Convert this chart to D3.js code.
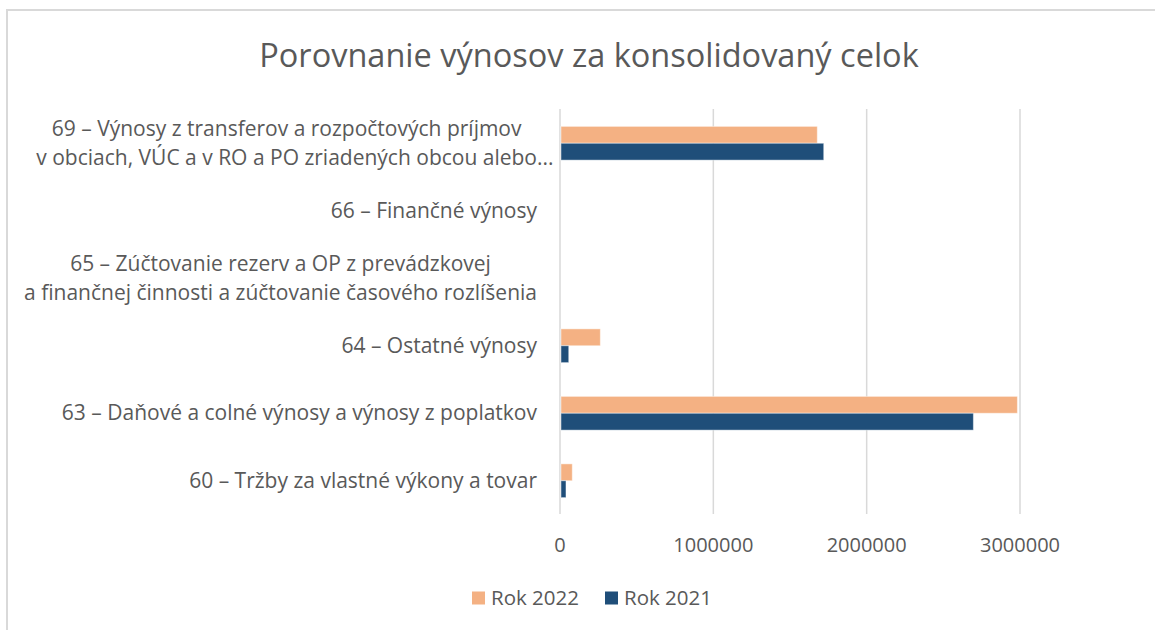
<!DOCTYPE html>
<html>
<head>
<meta charset="utf-8">
<script src="https://cdn.jsdelivr.net/npm/d3@7"></script>
<style>
  body { margin: 0; background: #fff; }
  svg text { font-family: "Open Sans", sans-serif; fill: #595959; }
</style>
</head>
<body>
<svg id="chart" width="1155" height="630"></svg>
<script>
/* Porovnanie výnosov - horizontal grouped bars */

const categories = [
  ["69 – Výnosy z transferov a rozpočtových príjmov", "v obciach, VÚC a v RO a PO zriadených obcou alebo..."],
  ["66 – Finančné výnosy"],
  ["65 – Zúčtovanie rezerv a OP z prevádzkovej", "a finančnej činnosti a zúčtovanie časového rozlíšenia"],
  ["64 – Ostatné výnosy"],
  ["63 – Daňové a colné výnosy a výnosy z poplatkov"],
  ["60 – Tržby za vlastné výkony a tovar"],
];

const rok2022 = [1678000, 0, 0, 263000, 2983000, 80000];
const rok2021 = [1720000, 0, 0, 57000, 2696000, 39000];

const seriesNames = ["Rok 2022", "Rok 2021"];
const seriesColors = ["#F4B183", "#1F4E79"];
const tickValues = [0, 1000000, 2000000, 3000000];

const svg = d3.select("#chart");

// chart border (only top/left visible in the crop)
svg.append("rect")
  .attr("x", 7).attr("y", 10)
  .attr("width", 1200).attr("height", 700)
  .attr("fill", "none")
  .attr("stroke", "#d9d9d9")
  .attr("stroke-width", 2);

svg.append("text")
  .attr("x", 589).attr("y", 67)
  .attr("text-anchor", "middle")
  .style("font-size", "32.5px")
  .text("Porovnanie výnosov za konsolidovaný celok");

const x = d3.scaleLinear().domain([0, 3000000]).range([560, 1020]);
const y = d3.scaleBand()
  .domain(d3.range(categories.length))
  .range([109.5, 514.5])
  .paddingInner(0.5)
  .paddingOuter(0.25);
const ySub = d3.scaleBand().domain([0, 1]).range([0, y.bandwidth()]);

// gridlines
svg.append("g")
  .selectAll("line")
  .data(tickValues)
  .join("line")
  .attr("x1", d => x(d)).attr("x2", d => x(d))
  .attr("y1", 109).attr("y2", 514)
  .attr("stroke", "#d9d9d9")
  .attr("stroke-width", 1.5);

// tick labels
svg.append("g")
  .selectAll("text")
  .data(tickValues)
  .join("text")
  .attr("x", d => x(d))
  .attr("y", 552)
  .attr("text-anchor", "middle")
  .style("font-size", "20px")
  .text(d => d3.format("d")(d));

// bars
const series = [rok2022, rok2021];
series.forEach((vals, s) => {
  svg.append("g")
    .selectAll("rect")
    .data(vals)
    .join("rect")
    .attr("x", x(0) + 1)
    .attr("y", (d, i) => y(i) + ySub(s))
    .attr("width", d => Math.max(0, x(d) - x(0) - 1))
    .attr("height", ySub.bandwidth())
    .attr("fill", seriesColors[s])
    .attr("stroke", d => d > 0 ? "rgba(255,255,255,0.45)" : "none")
    .attr("stroke-width", 1);
});

// category labels
const labelRight = 537;
const lineH = 29;
const labels = svg.append("g");
categories.forEach((lines, i) => {
  const cy = y(i) + y.bandwidth() / 2;
  const g = labels.append("g");
  const texts = lines.map((ln, k) => g.append("text")
    .attr("y", cy + (k - (lines.length - 1) / 2) * lineH + 7)
    .style("font-size", "21px")
    .text(ln));
  if (lines.length === 1) {
    texts[0].attr("x", labelRight).attr("text-anchor", "end");
  } else {
    // multi-line labels are centred on each other; trailing ellipsis hangs
    const widths = texts.map(t => {
      const w = t.node().getComputedTextLength();
      const txt = t.text();
      if (txt.endsWith("...")) {
        t.text("...");
        const e = t.node().getComputedTextLength();
        t.text(txt);
        return w - e;
      }
      return w;
    });
    const cx = labelRight - d3.max(widths) / 2;
    texts.forEach(t => t.attr("x", cx).attr("text-anchor", "middle"));
    texts.forEach((t, k) => {
      if (t.text().endsWith("...")) {
        t.attr("text-anchor", "start").attr("x", cx - widths[k] / 2);
      }
    });
  }
});

// legend
const legendX = [472, 605];
const legend = svg.append("g");
seriesNames.forEach((name, s) => {
  legend.append("rect")
    .attr("x", legendX[s]).attr("y", 591.5)
    .attr("width", 13).attr("height", 13)
    .attr("fill", seriesColors[s]);
  legend.append("text")
    .attr("x", legendX[s] + 19).attr("y", 605)
    .style("font-size", "20.5px")
    .text(name);
});
</script>
</body>
</html>
